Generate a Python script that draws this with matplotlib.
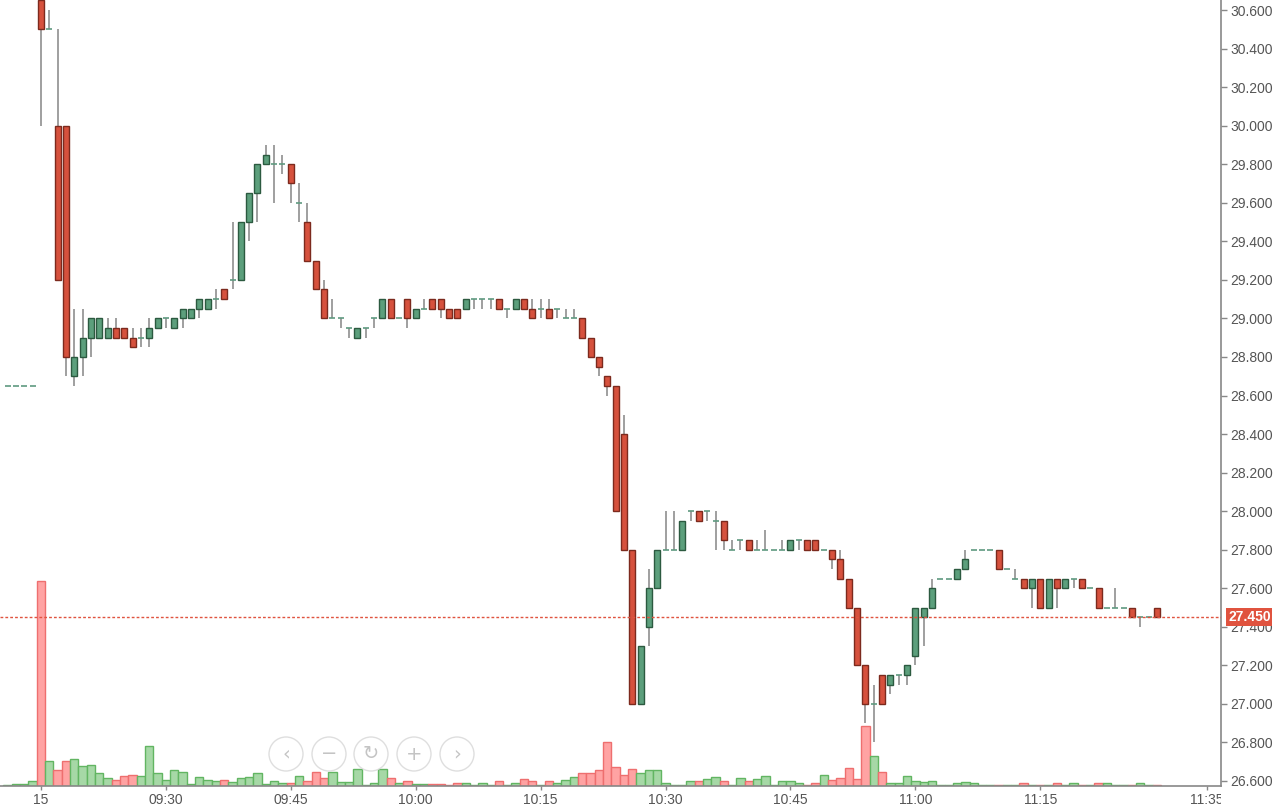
import matplotlib
matplotlib.use("Agg")
import matplotlib.pyplot as plt
import numpy as np
from matplotlib.patches import Circle
from matplotlib.transforms import Bbox, TransformedBbox, blended_transform_factory

plt.rcParams['font.family'] = ['Liberation Sans', 'DejaVu Sans']

# 1-minute bars, minutes after 09:15 (first four are pre-open)
minutes = list(range(-4, 135))

opens = [28.65, 28.65, 28.65, 28.65,
         30.65, 30.50, 30.00, 30.00, 28.70, 28.80, 28.90, 28.90, 28.90, 28.95,
         28.95, 28.90, 28.90, 28.90, 28.95, 29.00, 28.95, 29.00, 29.00, 29.05,
         29.05, 29.10, 29.15, 29.20, 29.20, 29.50, 29.65, 29.80, 29.80, 29.80,
         29.80, 29.60, 29.50, 29.30, 29.15, 29.00, 29.00, 28.95, 28.90, 28.95,
         29.00, 29.00, 29.10, 29.00, 29.10, 29.00, 29.05, 29.10, 29.10, 29.05,
         29.05, 29.05, 29.10, 29.10, 29.10, 29.10, 29.05, 29.05, 29.10, 29.05,
         29.05, 29.05, 29.05, 29.00, 29.00, 29.00, 28.90, 28.80, 28.70, 28.65,
         28.40, 27.80, 27.00, 27.40, 27.60, 27.80, 27.80, 27.80, 28.00, 28.00,
         28.00, 27.95, 27.95, 27.80, 27.85, 27.85, 27.80, 27.80, 27.80, 27.80,
         27.80, 27.85, 27.85, 27.85, 27.80, 27.80, 27.75, 27.65, 27.50, 27.20,
         27.00, 27.15, 27.10, 27.15, 27.15, 27.25, 27.45, 27.50, 27.65, 27.65,
         27.65, 27.70, 27.80, 27.80, 27.80, 27.80, 27.70, 27.65, 27.65, 27.60,
         27.65, 27.50, 27.65, 27.60, 27.65, 27.65, 27.60, 27.60, 27.50, 27.50,
         27.50, 27.50, 27.45, 27.45, 27.50]

highs = [28.65, 28.65, 28.65, 28.65,
         30.65, 30.60, 30.50, 30.00, 29.05, 29.05, 29.00, 29.00, 29.00, 29.00,
         28.95, 28.95, 28.95, 29.00, 29.00, 29.00, 29.00, 29.05, 29.05, 29.10,
         29.10, 29.15, 29.15, 29.50, 29.50, 29.65, 29.80, 29.90, 29.90, 29.85,
         29.80, 29.70, 29.60, 29.30, 29.20, 29.10, 29.00, 28.95, 28.95, 28.95,
         29.00, 29.10, 29.10, 29.00, 29.10, 29.05, 29.10, 29.10, 29.10, 29.05,
         29.05, 29.10, 29.10, 29.10, 29.10, 29.10, 29.05, 29.10, 29.10, 29.10,
         29.10, 29.10, 29.05, 29.05, 29.05, 29.00, 28.90, 28.80, 28.70, 28.65,
         28.50, 27.80, 27.30, 27.70, 27.80, 28.00, 28.00, 27.95, 28.00, 28.00,
         28.00, 28.00, 27.95, 27.85, 27.85, 27.85, 27.85, 27.90, 27.80, 27.85,
         27.85, 27.85, 27.85, 27.85, 27.80, 27.80, 27.80, 27.65, 27.50, 27.20,
         27.10, 27.15, 27.15, 27.15, 27.20, 27.50, 27.50, 27.65, 27.65, 27.65,
         27.70, 27.80, 27.80, 27.80, 27.80, 27.80, 27.70, 27.70, 27.65, 27.65,
         27.65, 27.65, 27.65, 27.65, 27.65, 27.65, 27.60, 27.60, 27.50, 27.60,
         27.50, 27.50, 27.45, 27.45, 27.50]

lows = [28.65, 28.65, 28.65, 28.65,
        30.00, 30.50, 29.20, 28.70, 28.65, 28.70, 28.80, 28.90, 28.90, 28.90,
        28.90, 28.85, 28.85, 28.85, 28.95, 28.95, 28.95, 28.95, 29.00, 29.00,
        29.05, 29.05, 29.10, 29.15, 29.20, 29.40, 29.50, 29.80, 29.60, 29.75,
        29.60, 29.50, 29.30, 29.15, 29.00, 29.00, 28.95, 28.90, 28.90, 28.90,
        28.95, 29.00, 29.00, 29.00, 28.95, 29.00, 29.05, 29.05, 29.00, 29.00,
        29.00, 29.05, 29.05, 29.05, 29.05, 29.05, 29.00, 29.05, 29.05, 29.00,
        29.00, 29.00, 29.00, 29.00, 29.00, 28.90, 28.80, 28.70, 28.60, 28.00,
        27.80, 27.00, 27.00, 27.30, 27.60, 27.80, 27.80, 27.80, 27.95, 27.95,
        27.95, 27.80, 27.80, 27.80, 27.80, 27.80, 27.80, 27.80, 27.80, 27.80,
        27.80, 27.80, 27.80, 27.80, 27.80, 27.70, 27.65, 27.50, 27.20, 26.90,
        26.80, 27.00, 27.05, 27.10, 27.10, 27.20, 27.30, 27.50, 27.65, 27.65,
        27.65, 27.70, 27.80, 27.80, 27.80, 27.70, 27.70, 27.65, 27.60, 27.50,
        27.50, 27.50, 27.50, 27.60, 27.60, 27.60, 27.60, 27.50, 27.50, 27.50,
        27.50, 27.45, 27.40, 27.45, 27.45]

closes = [28.65, 28.65, 28.65, 28.65,
          30.50, 30.50, 29.20, 28.80, 28.80, 28.90, 29.00, 29.00, 28.95, 28.90,
          28.90, 28.85, 28.90, 28.95, 29.00, 29.00, 29.00, 29.05, 29.05, 29.10,
          29.10, 29.10, 29.10, 29.20, 29.50, 29.65, 29.80, 29.85, 29.80, 29.80,
          29.70, 29.60, 29.30, 29.15, 29.00, 29.00, 29.00, 28.95, 28.95, 28.95,
          29.00, 29.10, 29.00, 29.00, 29.00, 29.05, 29.05, 29.05, 29.05, 29.00,
          29.00, 29.10, 29.10, 29.10, 29.10, 29.05, 29.05, 29.10, 29.05, 29.00,
          29.05, 29.00, 29.05, 29.00, 29.00, 28.90, 28.80, 28.75, 28.65, 28.00,
          27.80, 27.00, 27.30, 27.60, 27.80, 27.80, 27.80, 27.95, 28.00, 27.95,
          28.00, 27.95, 27.85, 27.80, 27.85, 27.80, 27.80, 27.80, 27.80, 27.80,
          27.85, 27.85, 27.80, 27.80, 27.80, 27.75, 27.65, 27.50, 27.20, 27.00,
          27.00, 27.00, 27.15, 27.15, 27.20, 27.50, 27.50, 27.60, 27.65, 27.65,
          27.70, 27.75, 27.80, 27.80, 27.80, 27.70, 27.70, 27.65, 27.60, 27.65,
          27.50, 27.65, 27.60, 27.65, 27.65, 27.60, 27.60, 27.50, 27.50, 27.50,
          27.50, 27.45, 27.45, 27.45, 27.45]

volumes = [0.5, 1.7, 1.7, 5,
           203, 25, 16, 25, 27, 20, 21, 13, 8, 6,
           10, 11, 10, 40, 13, 6, 16, 14, 1.5, 9,
           6, 5, 6, 4, 8, 9, 13, 1.5, 5, 3,
           3, 10, 5, 14, 8, 14, 4, 4, 17, 0.5,
           3, 17, 8, 3, 5, 1.5, 1.5, 1.5, 1.5, 0.5,
           2.5, 2.5, 1, 3, 1, 4.5, 1, 3, 7, 4.5,
           1, 4.5, 2.5, 6, 9, 13, 13, 16, 44, 19,
           11, 17, 13, 16, 16, 3, 1, 1, 4.5, 4.5,
           7, 9, 4.5, 1, 8, 4.5, 7, 10, 0.5, 4.5,
           4.5, 2.5, 1, 2.5, 11, 6, 8, 18, 7, 59,
           30, 14, 2.5, 2.5, 10, 5, 4, 5, 1, 0.5,
           2.5, 4, 2.5, 1, 1, 1, 1, 1, 2.5, 1,
           1, 1, 2.5, 1, 2.5, 1, 1, 2.5, 2.5, 1,
           0.5, 1, 2.5, 1, 1]

last_price = 27.45
price_ticks = [26.6, 26.8, 27.0, 27.2, 27.4, 27.6, 27.8, 28.0, 28.2, 28.4,
               28.6, 28.8, 29.0, 29.2, 29.4, 29.6, 29.8, 30.0, 30.2, 30.4, 30.6]
time_ticks = [0, 15, 30, 45, 60, 75, 90, 105, 120, 140]
time_labels = ["15", "09:30", "09:45", "10:00", "10:15", "10:30", "10:45",
               "11:00", "11:15", "11:35"]

x = np.array(minutes)
o = np.array(opens)
h = np.array(highs)
l = np.array(lows)
c = np.array(closes)
up = c >= o
doji = c == o

fig = plt.figure(figsize=(12.76, 8.11), dpi=100)
ax = fig.add_axes([0.0, 25 / 811, 1221 / 1276, 786 / 811])
axv = ax.twinx()
ax.set_zorder(axv.get_zorder() + 1)
ax.patch.set_visible(False)

# volume bars behind the candles
vcol = np.where(up, '#a6d8a6', '#ffa3a3')
vedge = np.where(up, '#62b562', '#ee6f6f')
axv.bar(x, volumes, width=1.0, color=vcol, edgecolor=vedge, linewidth=1.0)
axv.set_ylim(0, max(volumes) * 786 / 205)
axv.set_axis_off()

# wicks
ax.vlines(x, l, h, color='#8f8f8f', linewidth=1.2, zorder=2)
# bodies
body = ~doji
bcol = np.where(up, '#5c9f7c', '#d6513d')[body]
becol = np.where(up, '#2c5a40', '#7c2a1e')[body]
ax.bar(x[body], np.abs(c - o)[body], bottom=np.minimum(o, c)[body], width=0.72,
       color=bcol, edgecolor=becol, linewidth=1.0, zorder=3)
# doji ticks
ax.hlines(c[doji], x[doji] - 0.36, x[doji] + 0.36, color='#5f9a80', linewidth=1.2, zorder=3)

# last price line and label
ax.axhline(last_price, color='#e0533f', linewidth=1.0, linestyle=(0, (2, 1.5)), zorder=4)
trans = blended_transform_factory(ax.transAxes, ax.transData)
ax.text(1.0 + 7 / 1221, last_price, f"{last_price:.3f}", transform=trans, ha='left',
        va='center', color='white', fontsize=10, fontweight='bold', clip_on=False, zorder=10,
        bbox=dict(boxstyle='square,pad=0.12', fc='#e0533f', ec='none'))

ax.set_xlim(-4.92, 141.7)
ax.set_ylim(26.574, 30.652)
ax.set_yticks(price_ticks)
ax.set_yticklabels([f"{p:.3f}" for p in price_ticks])
ax.yaxis.tick_right()
ax.set_xticks(time_ticks)
ax.set_xticklabels(time_labels)
ax.tick_params(axis='both', colors='#888888', labelcolor='#555555', labelsize=10,
               length=4, width=1)
ax.tick_params(axis='y', pad=3)
ax.tick_params(axis='x', pad=2, length=3)
for s in ['left', 'top']:
    ax.spines[s].set_visible(False)
for s in ['right', 'bottom']:
    ax.spines[s].set_color('#888888')
    ax.spines[s].set_linewidth(1.2)

clip = TransformedBbox(Bbox([[0, -1], [1, 1]]), ax.transAxes)
for lab in ax.get_xticklabels():
    lab.set_clip_box(clip)
    lab.set_clip_on(True)

# navigator buttons
nav_x = [286, 329, 371, 414, 457]
nav_glyphs = ['\u2039', '\u2212', '\u21bb', '+', '\u203a']
for px, g in zip(nav_x, nav_glyphs):
    cx, cy = px / 100, (811 - 754) / 100
    fig.add_artist(Circle((cx, cy), 0.17, transform=fig.dpi_scale_trans,
                          facecolor='white', edgecolor='#d9d9d9', linewidth=1.0,
                          alpha=0.85, zorder=20))
    fig.text(cx, cy, g, transform=fig.dpi_scale_trans, ha='center', va='center',
             fontsize=14, color='#c4c4c4', family='DejaVu Sans', zorder=21)

fig.savefig('out.png', dpi=100)
